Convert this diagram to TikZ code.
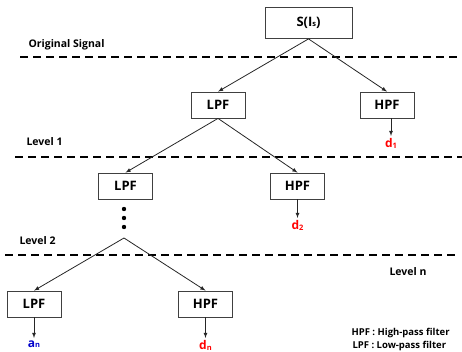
\documentclass[tikz,border=0pt]{standalone}
\usepackage{fontspec}
\setmainfont{Open Sans}
\newcommand{\lowsub}[1]{\raisebox{-0.3pt}{\fontsize{7.5}{7.5}\selectfont #1}}
\begin{document}
\begin{tikzpicture}[x=1pt,y=-1pt,>=latex,
	filter/.style={draw=black!75,line width=0.8pt,minimum width=54pt,minimum height=26pt,inner sep=0pt,font=\bfseries\fontsize{13}{13}\selectfont},
	levelname/.style={anchor=west,font=\bfseries\fontsize{10.5}{10.5}\selectfont},
	outlabel/.style={anchor=north,inner sep=2.5pt,font=\bfseries\fontsize{12}{12}\selectfont},
	levelline/.style={dash pattern=on 8pt off 5pt,line width=1.2pt},
	flow/.style={->,line width=0.8pt,black!85}]
	\useasboundingbox (0,0) rectangle (462,352);
	% levels
	\draw[levelline] (20,57) -- (462,57);
	\draw[levelline] (15,157) -- (462,157);
	\draw[levelline] (5,255) -- (456,255);
	\node[levelname] (orig) at (25,45) {Original Signal};
	\node[levelname] (lev1) at (23,142) {Level 1};
	\node[levelname] (lev2) at (16,241) {Level 2};
	\node[levelname] (levn) at (386,272) {Level n};
	% filter tree
	\node[filter,minimum width=87pt,minimum height=31pt] (src) at (308.5,23) {S(I\lowsub{s})};
	\node[filter] (lpfa) at (218,105) {LPF};
	\node[filter] (hpfa) at (387,105) {HPF};
	\node[filter] (lpfb) at (125.5,186) {LPF};
	\node[filter] (hpfb) at (297.5,186) {HPF};
	\node[filter] (lpfn) at (34,304) {LPF};
	\node[filter] (hpfn) at (205.5,304) {HPF};
	\draw[flow] (src.south) -- (lpfa.north);
	\draw[flow] (src.south) -- (hpfa.north);
	\draw[flow] (lpfa.south) -- (lpfb.north);
	\draw[flow] (lpfa.south) -- (hpfb.north);
	% dots
	\foreach \y in {209,218,227}
		\fill (124,\y) circle (2.2pt);
	\coordinate (apex) at (124,238);
	\draw[flow] (apex) -- (lpfn.north);
	\draw[flow] (apex) -- (hpfn.north);
	% outputs
	\node[outlabel,text=red] (d1) at (391,136) {d\lowsub{1}};
	\node[outlabel,text=red] (d2) at (297.5,218) {d\lowsub{2}};
	\node[outlabel,text=blue!80!black] (an) at (34,338) {a\lowsub{n}};
	\node[outlabel,text=red] (dn) at (205.5,338) {d\lowsub{n}};
	\draw[flow] (hpfa.south -| d1.north) -- (d1.north);
	\draw[flow] (hpfb.south) -- (d2.north);
	\draw[flow] (lpfn.south) -- (an.north);
	\draw[flow] (hpfn.south) -- (dn.north);
	% legend
	\node[anchor=west,font=\bfseries\fontsize{9.5}{9.5}\selectfont] (hleg) at (348,333) {HPF : High-pass filter};
	\node[anchor=west,font=\bfseries\fontsize{9.5}{9.5}\selectfont] (lleg) at (349,346) {LPF : Low-pass filter};
\end{tikzpicture}
\end{document}
